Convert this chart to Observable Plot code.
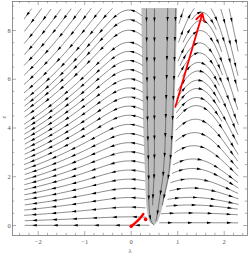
<!DOCTYPE html>
<html><head><meta charset="utf-8">
<script src="https://cdn.jsdelivr.net/npm/d3@7"></script>
<script src="https://cdn.jsdelivr.net/npm/@observablehq/plot@0.6"></script>
<style>html,body{margin:0;padding:0;background:#fff}svg{display:block}</style>
</head><body><div id="chart"></div>
<script>
// ---------- data ----------
const xTicks = [-2, -1, 0, 1, 2];
const yTicks = [0, 2, 4, 6, 8];
const xMinorStep = 0.2, yMinorStep = 0.5;
const xDomain = [-2.553, 2.501];
const yDomain = [-0.41, 9.19];
const streamX = [-2.3, 2.3];
const streamY = [-0.1, 8.9];
// grey region boundaries (left / right edge at each ε)
const grayY  = [0, 0.1, 0.3, 0.6, 1, 2, 3, 4, 6, 8.9];
const grayXL = [0.5, 0.42, 0.38, 0.35, 0.33, 0.31, 0.29, 0.27, 0.25, 0.23];
const grayXR = [0.5, 0.56, 0.61, 0.66, 0.71, 0.83, 0.89, 0.92, 0.96, 1.0];
// flow-shape parameters read from the streamlines
const leftApexX = [-0.05];        // λ where left-hand arcs peak
const leftFarSlope = [0.3];       // dε/dλ per unit ε far left
const rightApexX = [1.25, 0.03];  // λ where right-hand arcs peak (base, growth with ε)
const rightGain = [2.2, 3];       // steepness of right-hand arcs, ε half-saturation
// red annotations
const redArrow = [{x1: 0.95, y1: 4.87, x2: 1.53, y2: 8.7}];
const redCurveX = [0.0, 0.07, 0.14, 0.2, 0.26];
const redCurveY = [-0.03, 0.08, 0.2, 0.32, 0.47];
const redDotX = [0.0, 0.31];
const redDotY = [-0.03, 0.25];

// ---------- layout ----------
const W = 249, H = 257, ml = 12, mr = 2, mt = 1, mb = 22;
const kx = (W - ml - mr) / (xDomain[1] - xDomain[0]);
const ky = (H - mb - mt) / (yDomain[1] - yDomain[0]);
const sx = v => ml + (v - xDomain[0]) * kx;
const sy = v => (H - mb) - (v - yDomain[0]) * ky;
const ix = p => xDomain[0] + (p - ml) / kx;
const iy = p => yDomain[0] + ((H - mb) - p) / ky;

function interp(ys, xs, y) {
  if (y <= ys[0]) return xs[0];
  for (let i = 1; i < ys.length; i++) if (y <= ys[i]) {
    const t = (y - ys[i-1]) / (ys[i] - ys[i-1]);
    return xs[i-1] + t * (xs[i] - xs[i-1]);
  }
  return xs[xs.length - 1];
}

function field(x, y) {
  const yy = Math.max(0, Math.min(streamY[1], y));
  const xl = interp(grayY, grayXL, yy), xr = interp(grayY, grayXR, yy);
  if (y >= 0 && x > xl && x < xr) {
    const t = (x - xl) / (xr - xl);
    const e = 0.05;
    const xl2 = interp(grayY, grayXL, Math.max(0, yy - e)), xr2 = interp(grayY, grayXR, Math.max(0, yy - e));
    const dxdy = ((xl - xl2) + t * ((xr - xr2) - (xl - xl2))) / e;
    return [-dxdy, -1, 0];
  }
  const xm = (xl + xr) / 2;
  if (x < xm) {
    const h = leftFarSlope[0] * Math.tanh(-2.5 * (x - leftApexX[0]));
    return [-1, -y * h, 1];
  } else {
    const ap = rightApexX[0] + rightApexX[1] * yy;
    const h = rightGain[0] * (ap - x) * yy / (yy + rightGain[1]);
    return [1, y * h, 2];
  }
}

// ---------- evenly spaced streamlines ----------
const dsep = 8, dtest = 3.6, step = 1, arrowGap = 20;
const bx0 = sx(streamX[0]), bx1 = sx(streamX[1]), by0 = sy(streamY[1]), by1 = sy(streamY[0]);
const cell = dsep, gw = Math.ceil(W / cell) + 2, gh = Math.ceil(H / cell) + 2;
const grid = Array.from({length: gw * gh}, () => []);
function addPts(pts, id) {
  for (const p of pts) {
    const gx = Math.floor(p[0] / cell), gy = Math.floor(p[1] / cell);
    grid[gy * gw + gx].push([p[0], p[1], id]);
  }
}
function near(p, d, id) {
  const gx = Math.floor(p[0] / cell), gy = Math.floor(p[1] / cell), r = Math.ceil(d / cell);
  for (let j = gy - r; j <= gy + r; j++) for (let i = gx - r; i <= gx + r; i++) {
    if (i < 0 || j < 0 || i >= gw || j >= gh) continue;
    for (const q of grid[j * gw + i]) {
      if (q[2] === id) continue;
      const dx = q[0] - p[0], dy = q[1] - p[1];
      if (dx * dx + dy * dy < d * d) return true;
    }
  }
  return false;
}
function pdir(p) {
  const f = field(ix(p[0]), iy(p[1]));
  const dx = f[0] * kx, dy = -f[1] * ky, n = Math.hypot(dx, dy);
  if (n < 1e-9) return null;
  return [dx / n, dy / n, f[2]];
}
const inBox = p => p[0] >= bx0 && p[0] <= bx1 && p[1] >= by0 && p[1] <= by1;
function trace(seed, dir, id, reg) {
  const pts = []; let p = seed;
  for (let k = 0; k < 900; k++) {
    const d1 = pdir(p); if (!d1 || d1[2] !== reg) break;
    const m = [p[0] + dir * d1[0] * step / 2, p[1] + dir * d1[1] * step / 2];
    const d2 = pdir(m); if (!d2 || d2[2] !== reg) break;
    const np = [p[0] + dir * d2[0] * step, p[1] + dir * d2[1] * step];
    if (!inBox(np)) break;
    const d3 = pdir(np); if (!d3 || d3[2] !== reg) break;
    if (near(np, dtest, id)) break;
    pts.push(np); p = np;
  }
  return pts;
}
const lines = []; let nextId = 0;
function tryLine(seed) {
  if (!inBox(seed)) return null;
  const d = pdir(seed); if (!d) return null;
  if (near(seed, dsep * 0.95, -1)) return null;
  const id = nextId;
  const f = trace(seed, 1, id, d[2]), b = trace(seed, -1, id, d[2]);
  const pts = [...b.reverse(), seed, ...f];
  if (pts.length < 7) return null;
  nextId++;
  addPts(pts, id); lines.push(pts);
  return pts;
}
function grow(start) {
  const queue = [start];
  while (queue.length) {
    const L = queue.shift();
    for (let k = 0; k < L.length; k += 3) {
      const a = L[Math.max(0, k - 1)], c = L[Math.min(L.length - 1, k + 1)];
      let tx = c[0] - a[0], ty = c[1] - a[1]; const n = Math.hypot(tx, ty) || 1; tx /= n; ty /= n;
      for (const s of [1, -1]) {
        const nl = tryLine([L[k][0] - ty * dsep * s, L[k][1] + tx * dsep * s]);
        if (nl) queue.push(nl);
      }
    }
  }
}
for (let y = by0 + 2; y <= by1; y += 4) for (let x = bx0 + 2; x <= bx1; x += 4) {
  const nl = tryLine([x, y]); if (nl) grow(nl);
}

const lineData = [], arrowData = [];
lines.forEach((pts, id) => {
  pts.forEach((p, i) => { if (i % 2 === 0 || i === pts.length - 1) lineData.push({x: ix(p[0]), y: iy(p[1]), id}); });
  const cum = [0];
  for (let i = 1; i < pts.length; i++) cum.push(cum[i-1] + Math.hypot(pts[i][0] - pts[i-1][0], pts[i][1] - pts[i-1][1]));
  const L = cum[cum.length - 1];
  const n = Math.max(1, Math.round(L / arrowGap));
  for (let j = 0; j < n; j++) {
    const target = (j + 0.5) * L / n;
    let i = cum.findIndex(c => c >= target); if (i < 1) i = 1;
    const a = pts[Math.max(0, i - 2)], c = pts[Math.min(pts.length - 1, i + 1)];
    const ang = Math.atan2(c[1] - a[1], c[0] - a[0]) * 180 / Math.PI;
    arrowData.push({x: ix(pts[i][0]), y: iy(pts[i][1]), a: ang + 90});
  }
});

const grayData = grayY.map((y, i) => ({y, xl: grayXL[i], xr: grayXR[i]}));
const redCurve = redCurveX.map((x, i) => ({x, y: redCurveY[i]}));
const redDots = redDotX.map((x, i) => ({x, y: redDotY[i]}));
const arrowSym = {draw(ctx, size) {
  const r = Math.sqrt(size / Math.PI);
  ctx.moveTo(0, -r * 1.5); ctx.lineTo(r * 0.65, r * 0.9); ctx.lineTo(-r * 0.65, r * 0.9); ctx.closePath();
}};

const xMinor = d3.range(Math.ceil(xDomain[0] / xMinorStep), Math.floor(xDomain[1] / xMinorStep) + 1).map(k => +(k * xMinorStep).toFixed(2));
const yMinor = d3.range(Math.ceil(yDomain[0] / yMinorStep), Math.floor(yDomain[1] / yMinorStep) + 1).map(k => +(k * yMinorStep).toFixed(2));
const tickCol = "#777";
const tx = (len) => len / ky, ty = (len) => len / kx;

const chart = Plot.plot({
  width: W, height: H, marginLeft: ml, marginRight: mr, marginTop: mt, marginBottom: mb,
  x: {domain: xDomain, axis: null},
  y: {domain: yDomain, axis: null},
  style: {background: "#fff", overflow: "visible"},
  marks: [
    Plot.areaX(grayData, {y: "y", x1: "xl", x2: "xr", fill: "#bdbdbd", curve: "monotone-y"}),
    Plot.line(lineData, {x: "x", y: "y", z: "id", stroke: "#2a2a2a", strokeWidth: 0.55, curve: "linear"}),
    Plot.dot(arrowData, {x: "x", y: "y", rotate: "a", symbol: arrowSym, r: 1.9, fill: "#000", stroke: "none"}),
    Plot.arrow(redArrow, {x1: "x1", y1: "y1", x2: "x2", y2: "y2", stroke: "#f00", strokeWidth: 1.8, headLength: 7}),
    Plot.line(redCurve, {x: "x", y: "y", stroke: "#f00", strokeWidth: 2.4, curve: "catmull-rom"}),
    Plot.dot(redDots, {x: "x", y: "y", r: 1.8, fill: "#f00", stroke: "none"}),
    Plot.frame({stroke: tickCol, strokeWidth: 0.8}),
    // minor + major ticks, inward, on all four sides
    Plot.ruleX(xMinor, {x: d => d, y1: yDomain[0], y2: d => yDomain[0] + tx(xTicks.includes(d) ? 4 : 2.2), stroke: tickCol, strokeWidth: 0.6}),
    Plot.ruleX(xMinor, {x: d => d, y1: yDomain[1], y2: d => yDomain[1] - tx(xTicks.includes(d) ? 4 : 2.2), stroke: tickCol, strokeWidth: 0.6}),
    Plot.ruleY(yMinor, {y: d => d, x1: xDomain[0], x2: d => xDomain[0] + ty(yTicks.includes(d) ? 4 : 2.2), stroke: tickCol, strokeWidth: 0.6}),
    Plot.ruleY(yMinor, {y: d => d, x1: xDomain[1], x2: d => xDomain[1] - ty(yTicks.includes(d) ? 4 : 2.2), stroke: tickCol, strokeWidth: 0.6}),
    Plot.text(xTicks, {x: d => d, frameAnchor: "bottom", dy: 8, text: d => d < 0 ? "\u2212" + (-d) : String(d), fontSize: 6.5, fontFamily: "Liberation Serif", fill: "#555"}),
    Plot.text(yTicks, {y: d => d, frameAnchor: "left", dx: -5, text: d => String(d), fontSize: 6.5, fontFamily: "Liberation Serif", fill: "#555"}),
    Plot.text(["λ"], {frameAnchor: "bottom", dy: 17, fontSize: 6.5, fontFamily: "Liberation Serif", fill: "#555"}),
    Plot.text(["ε"], {frameAnchor: "left", dx: -9, rotate: -90, fontSize: 6.5, fontFamily: "Liberation Serif", fill: "#555"})
  ]
});
document.getElementById("chart").append(chart);
</script>
</body></html>
